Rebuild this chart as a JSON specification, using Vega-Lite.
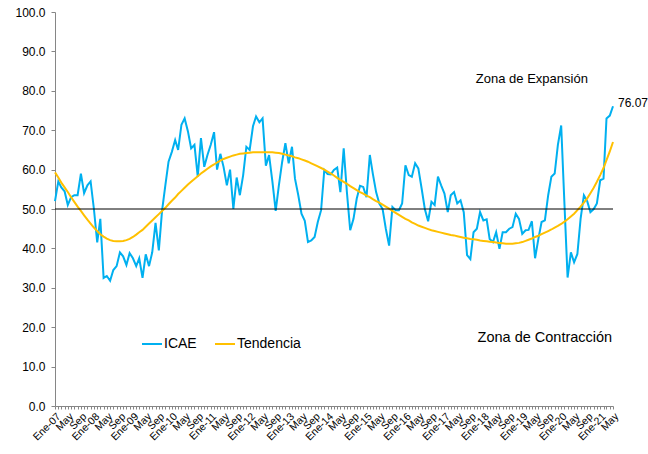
{
"$schema": "https://vega.github.io/schema/vega-lite/v6.json",
"width": 558,
"height": 394,
"autosize": {"type": "none"},
"padding": {"left": 55, "top": 12, "right": 35, "bottom": 48},
"config": {"view": {"stroke": null}, "font": "Liberation Sans"},
"datasets": {
"serie": [
{"fecha":"2007-01-01","ICAE":52,"Tendencia":59.3},{"fecha":"2007-02-01","ICAE":57,"Tendencia":58.0},{"fecha":"2007-03-01","ICAE":55.5,"Tendencia":56.7},{"fecha":"2007-04-01","ICAE":54.5,"Tendencia":55.5},{"fecha":"2007-05-01","ICAE":51,"Tendencia":54.3},{"fecha":"2007-06-01","ICAE":53,"Tendencia":53.0},{"fecha":"2007-07-01","ICAE":53.5,"Tendencia":51.8},{"fecha":"2007-08-01","ICAE":53.5,"Tendencia":50.6},{"fecha":"2007-09-01","ICAE":59,"Tendencia":49.5},{"fecha":"2007-10-01","ICAE":54,"Tendencia":48.4},{"fecha":"2007-11-01","ICAE":56,"Tendencia":47.3},{"fecha":"2007-12-01","ICAE":57,"Tendencia":46.3},
{"fecha":"2008-01-01","ICAE":50,"Tendencia":45.3},{"fecha":"2008-02-01","ICAE":41.5,"Tendencia":44.4},{"fecha":"2008-03-01","ICAE":47.5,"Tendencia":43.6},{"fecha":"2008-04-01","ICAE":32.5,"Tendencia":43.0},{"fecha":"2008-05-01","ICAE":33,"Tendencia":42.5},{"fecha":"2008-06-01","ICAE":31.8,"Tendencia":42.1},{"fecha":"2008-07-01","ICAE":34.5,"Tendencia":41.9},{"fecha":"2008-08-01","ICAE":35.5,"Tendencia":41.8},{"fecha":"2008-09-01","ICAE":39,"Tendencia":41.8},{"fecha":"2008-10-01","ICAE":38,"Tendencia":41.9},{"fecha":"2008-11-01","ICAE":35.8,"Tendencia":42.1},{"fecha":"2008-12-01","ICAE":38.8,"Tendencia":42.4},
{"fecha":"2009-01-01","ICAE":37.5,"Tendencia":42.9},{"fecha":"2009-02-01","ICAE":35.5,"Tendencia":43.5},{"fecha":"2009-03-01","ICAE":37.5,"Tendencia":44.1},{"fecha":"2009-04-01","ICAE":32.5,"Tendencia":44.7},{"fecha":"2009-05-01","ICAE":38.5,"Tendencia":45.5},{"fecha":"2009-06-01","ICAE":35.5,"Tendencia":46.3},{"fecha":"2009-07-01","ICAE":39,"Tendencia":47.1},{"fecha":"2009-08-01","ICAE":46.5,"Tendencia":47.9},{"fecha":"2009-09-01","ICAE":39.5,"Tendencia":48.7},{"fecha":"2009-10-01","ICAE":49.5,"Tendencia":49.5},{"fecha":"2009-11-01","ICAE":56,"Tendencia":50.3},{"fecha":"2009-12-01","ICAE":62,"Tendencia":51.2},
{"fecha":"2010-01-01","ICAE":64.5,"Tendencia":52.1},{"fecha":"2010-02-01","ICAE":67.5,"Tendencia":52.9},{"fecha":"2010-03-01","ICAE":65,"Tendencia":53.8},{"fecha":"2010-04-01","ICAE":71.4,"Tendencia":54.6},{"fecha":"2010-05-01","ICAE":73,"Tendencia":55.4},{"fecha":"2010-06-01","ICAE":69.7,"Tendencia":56.2},{"fecha":"2010-07-01","ICAE":65.4,"Tendencia":56.9},{"fecha":"2010-08-01","ICAE":66.3,"Tendencia":57.6},{"fecha":"2010-09-01","ICAE":58.2,"Tendencia":58.3},{"fecha":"2010-10-01","ICAE":68,"Tendencia":59.0},{"fecha":"2010-11-01","ICAE":60.7,"Tendencia":59.6},{"fecha":"2010-12-01","ICAE":63.7,"Tendencia":60.2},
{"fecha":"2011-01-01","ICAE":66.3,"Tendencia":60.8},{"fecha":"2011-02-01","ICAE":69.5,"Tendencia":61.3},{"fecha":"2011-03-01","ICAE":60,"Tendencia":61.8},{"fecha":"2011-04-01","ICAE":64,"Tendencia":62.3},{"fecha":"2011-05-01","ICAE":60.7,"Tendencia":62.7},{"fecha":"2011-06-01","ICAE":56,"Tendencia":63.0},{"fecha":"2011-07-01","ICAE":60,"Tendencia":63.3},{"fecha":"2011-08-01","ICAE":50,"Tendencia":63.6},{"fecha":"2011-09-01","ICAE":58,"Tendencia":63.8},{"fecha":"2011-10-01","ICAE":53.5,"Tendencia":64.0},{"fecha":"2011-11-01","ICAE":58.6,"Tendencia":64.1},{"fecha":"2011-12-01","ICAE":65.8,"Tendencia":64.2},
{"fecha":"2012-01-01","ICAE":65,"Tendencia":64.3},{"fecha":"2012-02-01","ICAE":71,"Tendencia":64.4},{"fecha":"2012-03-01","ICAE":73.5,"Tendencia":64.4},{"fecha":"2012-04-01","ICAE":72,"Tendencia":64.4},{"fecha":"2012-05-01","ICAE":73,"Tendencia":64.4},{"fecha":"2012-06-01","ICAE":61,"Tendencia":64.4},{"fecha":"2012-07-01","ICAE":63.7,"Tendencia":64.4},{"fecha":"2012-08-01","ICAE":57,"Tendencia":64.4},{"fecha":"2012-09-01","ICAE":49.5,"Tendencia":64.3},{"fecha":"2012-10-01","ICAE":56,"Tendencia":64.2},{"fecha":"2012-11-01","ICAE":62,"Tendencia":64.0},{"fecha":"2012-12-01","ICAE":66.7,"Tendencia":63.8},
{"fecha":"2013-01-01","ICAE":61.6,"Tendencia":63.6},{"fecha":"2013-02-01","ICAE":65.8,"Tendencia":63.4},{"fecha":"2013-03-01","ICAE":57.7,"Tendencia":63.1},{"fecha":"2013-04-01","ICAE":53.5,"Tendencia":62.9},{"fecha":"2013-05-01","ICAE":48.8,"Tendencia":62.6},{"fecha":"2013-06-01","ICAE":47,"Tendencia":62.3},{"fecha":"2013-07-01","ICAE":41.6,"Tendencia":62.0},{"fecha":"2013-08-01","ICAE":42,"Tendencia":61.6},{"fecha":"2013-09-01","ICAE":42.9,"Tendencia":61.2},{"fecha":"2013-10-01","ICAE":46.7,"Tendencia":60.8},{"fecha":"2013-11-01","ICAE":49.7,"Tendencia":60.4},{"fecha":"2013-12-01","ICAE":59.9,"Tendencia":60.0},
{"fecha":"2014-01-01","ICAE":58.9,"Tendencia":59.5},{"fecha":"2014-02-01","ICAE":58.8,"Tendencia":59.0},{"fecha":"2014-03-01","ICAE":59.9,"Tendencia":58.5},{"fecha":"2014-04-01","ICAE":60.5,"Tendencia":57.9},{"fecha":"2014-05-01","ICAE":54.3,"Tendencia":57.4},{"fecha":"2014-06-01","ICAE":65.4,"Tendencia":56.9},{"fecha":"2014-07-01","ICAE":54.3,"Tendencia":56.4},{"fecha":"2014-08-01","ICAE":44.6,"Tendencia":55.8},{"fecha":"2014-09-01","ICAE":47.5,"Tendencia":55.3},{"fecha":"2014-10-01","ICAE":52.6,"Tendencia":54.8},{"fecha":"2014-11-01","ICAE":55.9,"Tendencia":54.3},{"fecha":"2014-12-01","ICAE":55.6,"Tendencia":53.9},
{"fecha":"2015-01-01","ICAE":53,"Tendencia":53.4},{"fecha":"2015-02-01","ICAE":63.7,"Tendencia":53.0},{"fecha":"2015-03-01","ICAE":59,"Tendencia":52.5},{"fecha":"2015-04-01","ICAE":54.3,"Tendencia":52.0},{"fecha":"2015-05-01","ICAE":51.4,"Tendencia":51.6},{"fecha":"2015-06-01","ICAE":50,"Tendencia":51.1},{"fecha":"2015-07-01","ICAE":45,"Tendencia":50.6},{"fecha":"2015-08-01","ICAE":40.7,"Tendencia":50.1},{"fecha":"2015-09-01","ICAE":50.5,"Tendencia":49.5},{"fecha":"2015-10-01","ICAE":49.7,"Tendencia":49.0},{"fecha":"2015-11-01","ICAE":49.7,"Tendencia":48.5},{"fecha":"2015-12-01","ICAE":51.4,"Tendencia":48.0},
{"fecha":"2016-01-01","ICAE":61.1,"Tendencia":47.5},{"fecha":"2016-02-01","ICAE":58.6,"Tendencia":47.1},{"fecha":"2016-03-01","ICAE":58.2,"Tendencia":46.6},{"fecha":"2016-04-01","ICAE":61.6,"Tendencia":46.2},{"fecha":"2016-05-01","ICAE":60.3,"Tendencia":45.8},{"fecha":"2016-06-01","ICAE":55.2,"Tendencia":45.5},{"fecha":"2016-07-01","ICAE":50,"Tendencia":45.2},{"fecha":"2016-08-01","ICAE":46.9,"Tendencia":44.9},{"fecha":"2016-09-01","ICAE":51.8,"Tendencia":44.6},{"fecha":"2016-10-01","ICAE":51,"Tendencia":44.4},{"fecha":"2016-11-01","ICAE":58.2,"Tendencia":44.2},{"fecha":"2016-12-01","ICAE":56,"Tendencia":44.0},
{"fecha":"2017-01-01","ICAE":53.9,"Tendencia":43.8},{"fecha":"2017-02-01","ICAE":49.2,"Tendencia":43.6},{"fecha":"2017-03-01","ICAE":53.5,"Tendencia":43.4},{"fecha":"2017-04-01","ICAE":54.3,"Tendencia":43.3},{"fecha":"2017-05-01","ICAE":51.4,"Tendencia":43.1},{"fecha":"2017-06-01","ICAE":52.2,"Tendencia":42.9},{"fecha":"2017-07-01","ICAE":49.2,"Tendencia":42.7},{"fecha":"2017-08-01","ICAE":38.3,"Tendencia":42.6},{"fecha":"2017-09-01","ICAE":37.3,"Tendencia":42.4},{"fecha":"2017-10-01","ICAE":44.1,"Tendencia":42.3},{"fecha":"2017-11-01","ICAE":45,"Tendencia":42.2},{"fecha":"2017-12-01","ICAE":49.2,"Tendencia":42.0},
{"fecha":"2018-01-01","ICAE":47.1,"Tendencia":41.9},{"fecha":"2018-02-01","ICAE":47.4,"Tendencia":41.8},{"fecha":"2018-03-01","ICAE":42.4,"Tendencia":41.7},{"fecha":"2018-04-01","ICAE":41.6,"Tendencia":41.6},{"fecha":"2018-05-01","ICAE":44.1,"Tendencia":41.5},{"fecha":"2018-06-01","ICAE":39.9,"Tendencia":41.4},{"fecha":"2018-07-01","ICAE":44.1,"Tendencia":41.3},{"fecha":"2018-08-01","ICAE":44.1,"Tendencia":41.2},{"fecha":"2018-09-01","ICAE":45,"Tendencia":41.2},{"fecha":"2018-10-01","ICAE":45.4,"Tendencia":41.2},{"fecha":"2018-11-01","ICAE":48.8,"Tendencia":41.3},{"fecha":"2018-12-01","ICAE":47.5,"Tendencia":41.4},
{"fecha":"2019-01-01","ICAE":43.7,"Tendencia":41.6},{"fecha":"2019-02-01","ICAE":44.6,"Tendencia":41.9},{"fecha":"2019-03-01","ICAE":44.7,"Tendencia":42.2},{"fecha":"2019-04-01","ICAE":46.9,"Tendencia":42.5},{"fecha":"2019-05-01","ICAE":37.5,"Tendencia":42.9},{"fecha":"2019-06-01","ICAE":42.4,"Tendencia":43.2},{"fecha":"2019-07-01","ICAE":46.7,"Tendencia":43.6},{"fecha":"2019-08-01","ICAE":47.1,"Tendencia":44.0},{"fecha":"2019-09-01","ICAE":53.5,"Tendencia":44.4},{"fecha":"2019-10-01","ICAE":58.2,"Tendencia":44.8},{"fecha":"2019-11-01","ICAE":59,"Tendencia":45.3},{"fecha":"2019-12-01","ICAE":66.3,"Tendencia":45.7},
{"fecha":"2020-01-01","ICAE":71.2,"Tendencia":46.2},{"fecha":"2020-02-01","ICAE":51,"Tendencia":46.8},{"fecha":"2020-03-01","ICAE":32.6,"Tendencia":47.4},{"fecha":"2020-04-01","ICAE":39,"Tendencia":48.1},{"fecha":"2020-05-01","ICAE":36.5,"Tendencia":48.8},{"fecha":"2020-06-01","ICAE":38.6,"Tendencia":49.7},{"fecha":"2020-07-01","ICAE":47.5,"Tendencia":50.6},{"fecha":"2020-08-01","ICAE":53.5,"Tendencia":51.6},{"fecha":"2020-09-01","ICAE":52,"Tendencia":52.7},{"fecha":"2020-10-01","ICAE":49.2,"Tendencia":54.0},{"fecha":"2020-11-01","ICAE":50,"Tendencia":55.4},{"fecha":"2020-12-01","ICAE":51.4,"Tendencia":56.9},
{"fecha":"2021-01-01","ICAE":57.3,"Tendencia":58.6},{"fecha":"2021-02-01","ICAE":57.7,"Tendencia":60.4},{"fecha":"2021-03-01","ICAE":73,"Tendencia":62.4},{"fecha":"2021-04-01","ICAE":73.7,"Tendencia":64.6},{"fecha":"2021-05-01","ICAE":76.07,"Tendencia":67.0}
],
"notas": [
{"fecha":"2019-04-01","valor":83,"texto":"Zona de Expansión","tam":"a"},
{"fecha":"2019-08-01","valor":17.3,"texto":"Zona de Contracción","tam":"b"}
],
"ultimo": [
{"fecha":"2021-05-01","valor":76.07,"texto":"76.07"}
],
"umbral": [
{"valor": 50}
]
},
"layer": [
{
"data": {"name": "serie"},
"transform": [{"fold": ["ICAE", "Tendencia"], "as": ["serie", "valor"]}],
"mark": {"type": "line", "strokeWidth": 2},
"encoding": {
"x": {"field": "fecha", "type": "temporal",
"scale": {"type": "utc", "domain": [{"year": 2007, "month": 1, "date": 1, "utc": true}, {"year": 2021, "month": 5, "date": 1, "utc": true}]},
"axis": {"title": null, "grid": false, "tickCount": {"interval": "month", "step": 1},
"labelExpr": "utcmonth(datum.value)==0 ? 'Ene-' + utcFormat(datum.value,'%y') : utcmonth(datum.value)==4 ? 'May' : utcmonth(datum.value)==8 ? 'Sep' : ''",
"labelAngle": -45, "labelOverlap": false, "labelFlush": false, "labelBound": false,
"labelFontSize": 10.5, "labelColor": "#000000", "labelFont": "Liberation Sans",
"tickSize": 3, "tickColor": "#868686", "domainColor": "#868686", "labelPadding": 2}},
"y": {"field": "valor", "type": "quantitative", "scale": {"domain": [0, 100], "nice": false},
"axis": {"title": null, "grid": false, "tickCount": 10, "labelExpr": "format(datum.value, '.1f')",
"labelOverlap": false, "labelSeparation": 0, "labelFontSize": 12, "labelColor": "#000000", "labelFont": "Liberation Sans",
"tickSize": 4, "tickColor": "#868686", "domainColor": "#868686", "labelPadding": 6}},
"color": {"field": "serie", "type": "nominal",
"scale": {"domain": ["ICAE", "Tendencia"], "range": ["#00B0F0", "#FFC000"]},
"legend": {"title": null, "orient": "none", "legendX": 86, "legendY": 321, "direction": "horizontal",
"symbolType": "stroke", "symbolSize": 400, "symbolStrokeWidth": 2, "labelFontSize": 14,
"labelFont": "Liberation Sans", "labelColor": "#000000", "columnPadding": 14, "labelOffset": 1}}
}
},
{
"data": {"name": "umbral"},
"mark": {"type": "rule", "color": "#000000", "strokeWidth": 1},
"encoding": {"y": {"field": "valor", "type": "quantitative"}}
},
{
"data": {"name": "notas"},
"mark": {"type": "text", "align": "center", "baseline": "middle", "font": "Liberation Sans", "color": "#000000"},
"encoding": {
"x": {"field": "fecha", "type": "temporal"},
"y": {"field": "valor", "type": "quantitative"},
"text": {"field": "texto"},
"size": {"field": "tam", "type": "nominal", "scale": {"domain": ["a", "b"], "range": [13, 14.5]}, "legend": null}
}
},
{
"data": {"name": "ultimo"},
"mark": {"type": "text", "align": "left", "baseline": "middle", "dx": 5, "dy": -3, "fontSize": 12, "font": "Liberation Sans", "color": "#000000"},
"encoding": {
"x": {"field": "fecha", "type": "temporal"},
"y": {"field": "valor", "type": "quantitative"},
"text": {"field": "texto"}
}
}
]
}
